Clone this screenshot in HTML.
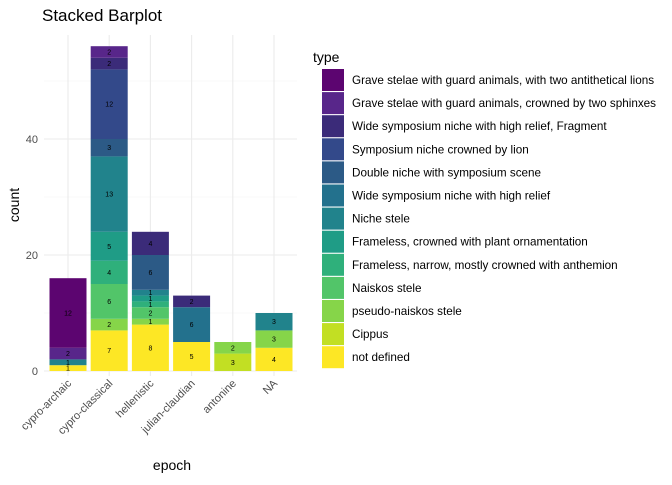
<!DOCTYPE html>
<html><head><meta charset="utf-8"><style>
body{margin:0;background:#fff;font-family:"Liberation Sans",sans-serif;}
</style></head><body>
<svg id="c" width="672" height="480" xmlns="http://www.w3.org/2000/svg" font-family="Liberation Sans, sans-serif"></svg>
<script>
const categories=["cypro-archaic","cypro-classical","hellenistic","julian-claudian","antonine","NA"];
const types=["Grave stelae with guard animals, with two antithetical lions","Grave stelae with guard animals, crowned by two sphinxes","Wide symposium niche with high relief, Fragment","Symposium niche crowned by lion","Double niche with symposium scene","Wide symposium niche with high relief","Niche stele","Frameless, crowned with plant ornamentation","Frameless, narrow, mostly crowned with anthemion","Naiskos stele","pseudo-naiskos stele","Cippus","not defined"];
const colors=["#5c0570","#58268a","#3b2b79","#33498a","#2c5a86","#23718d","#21838c","#1f9c86","#2fb07b","#52c569","#86d549","#c2df23","#fde725"];
// counts[type][category]
const counts=[
[12,0,0,0,0,0],
[2,2,0,0,0,0],
[0,2,4,2,0,0],
[0,12,0,0,0,0],
[0,3,6,0,0,0],
[0,0,0,6,0,0],
[1,13,1,0,0,3],
[0,5,1,0,0,0],
[0,4,1,0,0,0],
[0,6,2,0,0,0],
[0,2,1,0,2,3],
[0,0,0,0,3,0],
[1,7,8,5,0,4]];
const yTicks=[0,20,40];
const svg=document.getElementById('c');const NS="http://www.w3.org/2000/svg";
function el(t,a,txt){const e=document.createElementNS(NS,t);for(const k in a)e.setAttribute(k,a[k]);if(txt!==undefined)e.textContent=txt;svg.appendChild(e);return e;}
const y0=371,ppu=5.8,plotLeft=44,plotRight=297,plotTop=35;
const yS=v=>y0-v*ppu;const xS=i=>68+i*41.2;const bw=37;
let t=el('text',{x:42,y:21,'font-size':17,fill:'#000'},'Stacked Barplot');


for(let v=10;v<=50;v+=20){const g=el('line',{x1:plotLeft,x2:plotRight,y1:yS(v),y2:yS(v),stroke:'#f2f2f2','stroke-width':0.6});

}
yTicks.forEach(v=>{const g=el('line',{x1:plotLeft,x2:plotRight,y1:yS(v),y2:yS(v),stroke:'#ebebeb','stroke-width':1.1});


const l=el('text',{x:38,y:yS(v)+4,'font-size':11,fill:'#4d4d4d','text-anchor':'end'},v);

});
categories.forEach((c,i)=>{const g=el('line',{x1:xS(i),x2:xS(i),y1:plotTop,y2:y0+5,stroke:'#ebebeb','stroke-width':1.1});

});
categories.forEach((c,i)=>{let cum=0;
for(let k=types.length-1;k>=0;k--){const v=counts[k][i];if(!v)continue;
const r=el('rect',{x:xS(i)-bw/2,y:yS(cum+v),width:bw,height:v*ppu,fill:colors[k]});


const l=el('text',{x:xS(i),y:yS(cum+v/2)+2.5,'font-size':7,'text-anchor':'middle',fill:'#000'},v);


cum+=v;}
const tl=el('text',{x:0,y:0,'font-size':11,fill:'#4d4d4d','text-anchor':'end',transform:`translate(${xS(i)+4},${y0+13}) rotate(-45)`},c);

});
t=el('text',{x:172,y:470,'font-size':14,'text-anchor':'middle'},'epoch');


t=el('text',{x:0,y:0,'font-size':14,'text-anchor':'middle',transform:'translate(19,205) rotate(-90)'},'count');


t=el('text',{x:313,y:62,'font-size':14},'type');


types.forEach((tp,k)=>{const yy=69+k*23.1;
const r=el('rect',{x:322,y:yy,width:22,height:22,fill:colors[k]});


const l=el('text',{x:352,y:yy+15,'font-size':11.7,fill:'#000'},tp);

});
</script>
</body></html>
